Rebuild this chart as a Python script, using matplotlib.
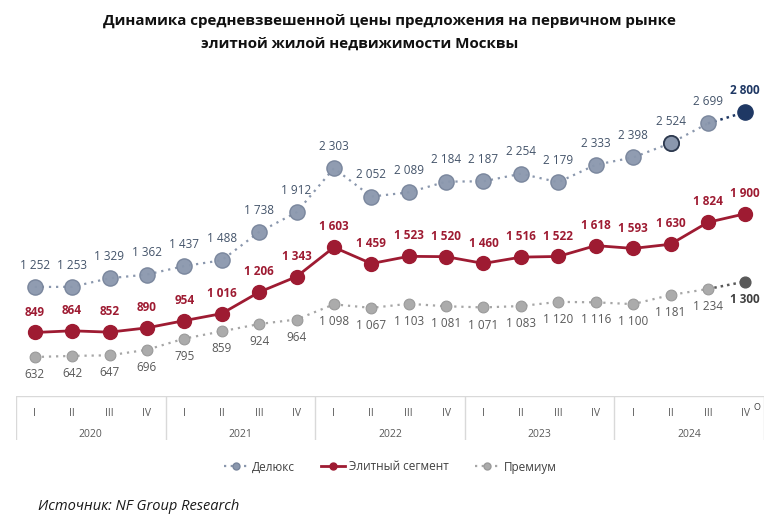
import matplotlib
matplotlib.use("Agg")
import matplotlib.pyplot as plt
from matplotlib.lines import Line2D

plt.rcParams["font.family"] = ["Open Sans", "DejaVu Sans"]

# data
years = ["2020", "2021", "2022", "2023", "2024"]
quarters = ["I", "II", "III", "IV"]
deluxe = [1252, 1253, 1329, 1362, 1437, 1488, 1738, 1912, 2303, 2052,
          2089, 2184, 2187, 2254, 2179, 2333, 2398, 2524, 2699, 2800]
elite = [849, 864, 852, 890, 954, 1016, 1206, 1343, 1603, 1459,
         1523, 1520, 1460, 1516, 1522, 1618, 1593, 1630, 1824, 1900]
premium = [632, 642, 647, 696, 795, 859, 924, 964, 1098, 1067,
           1103, 1081, 1071, 1083, 1120, 1116, 1100, 1181, 1234, 1300]
series_names = ["Делюкс", "Элитный сегмент", "Премиум"]

def fmt(v):
    return f"{v:,}".replace(",", " ")

W, H = 778, 516
fig = plt.figure(figsize=(W / 100, H / 100), dpi=100)
ax = fig.add_axes([16 / W, 1 - 396 / H, 748 / W, 326 / H])
ax.set_xlim(-0.5, 19.5)
ax.set_ylim(287, 3172)
ax.axis("off")

x = list(range(len(deluxe)))
n = len(x)

c_dlx, c_dlx_edge = "#8A97AD", "#77849B"
c_eli = "#9E1B32"
c_prm, c_prm_edge = "#ABABAB", "#9A9A9A"

# deluxe
ax.plot(x[:-1], deluxe[:-1], ls=(0, (1, 2.2)), lw=1.6, color="#8A97AD", zorder=2)
ax.plot(x[-2:], deluxe[-2:], ls=(0, (1, 1.6)), lw=1.8, color="#1F3864", zorder=2)
ax.scatter(x[:-1], deluxe[:-1], s=120, color=c_dlx, edgecolors=c_dlx_edge,
           linewidths=1, alpha=0.95, zorder=3)
ax.scatter([x[17]], [deluxe[17]], s=120, color=c_dlx, edgecolors="#2E3A4F",
           linewidths=1.3, zorder=4)
ax.scatter([x[-1]], [deluxe[-1]], s=120, color="#1F3864", zorder=4)

# elite
ax.plot(x, elite, color=c_eli, lw=2, marker="o", ms=10, zorder=3)

# premium
ax.plot(x[:-1], premium[:-1], ls=(0, (1, 2.2)), lw=1.6, color="#A6A6A6", zorder=2)
ax.plot(x[-2:], premium[-2:], ls=(0, (1, 1.6)), lw=1.8, color="#595959", zorder=2)
ax.scatter(x[:-1], premium[:-1], s=60, color=c_prm, edgecolors=c_prm_edge,
           linewidths=0.8, zorder=3)
ax.scatter([x[-1]], [premium[-1]], s=60, color="#595959", zorder=4)

for i in range(n):
    last = i == n - 1
    ax.annotate(fmt(deluxe[i]), (x[i], deluxe[i]), xytext=(0, 11),
                textcoords="offset points", ha="center", va="bottom",
                fontsize=8.5, color="#1F3864" if last else "#44546A",
                fontweight="bold" if last else "normal")
    ax.annotate(fmt(elite[i]), (x[i], elite[i]), xytext=(0, 10),
                textcoords="offset points", ha="center", va="bottom",
                fontsize=8.5, color=c_eli, fontweight="bold")
    ax.annotate(fmt(premium[i]), (x[i], premium[i]), xytext=(0, -8),
                textcoords="offset points", ha="center", va="top",
                fontsize=8.5, color="#404040" if last else "#595959",
                fontweight="bold" if last else "normal")

# category table
tax = fig.add_axes([16 / W, 1 - 440 / H, 748 / W, 44 / H], sharex=ax)
tax.set_ylim(0, 1)
tax.axis("off")
grid_c = "#D9D9D9"
tax.plot([-0.5, 19.5], [1, 1], color=grid_c, lw=1)
for k in range(len(years) + 1):
    tax.plot([k * 4 - 0.5] * 2, [0, 1], color=grid_c, lw=1)
for i in range(n):
    tax.text(x[i], 0.6, quarters[i % 4], ha="center", va="center",
             fontsize=7.5, color="#595959")
for k, yr in enumerate(years):
    tax.text(k * 4 + 1.5, 0.12, yr, ha="center", va="center",
             fontsize=7.5, color="#595959")
fig.text(757 / W, 1 - 407 / H, "O", fontsize=6.5, color="#404040",
         ha="center", va="center")

# legend
handles = [
    Line2D([], [], ls=(0, (1, 2)), lw=1.6, color="#8A97AD", marker="o", ms=5,
           mfc=c_dlx, mec=c_dlx_edge),
    Line2D([], [], lw=2, color=c_eli, marker="o", ms=5),
    Line2D([], [], ls=(0, (1, 2)), lw=1.6, color="#A6A6A6", marker="o", ms=5,
           mfc=c_prm, mec=c_prm_edge),
]
fig.legend(handles, series_names, loc="center", bbox_to_anchor=(390 / W, 1 - 467 / H),
           ncol=3, frameon=False, fontsize=8.5, handlelength=2, columnspacing=2.2,
           handletextpad=0.4, labelcolor="#404040")

fig.text(389 / W, 1 - 21 / H,
         "Динамика средневзвешенной цены предложения на первичном рынке",
         ha="center", va="center", fontsize=10.9, fontweight="bold", color="#111111")
fig.text(360 / W, 1 - 44 / H, "элитной жилой недвижимости Москвы",
         ha="center", va="center", fontsize=10.9, fontweight="bold", color="#111111")
fig.text(38 / W, 1 - 506 / H, "Источник: NF Group Research", ha="left",
         va="center", fontsize=10.5, style="italic", color="#1A1A1A")

fig.savefig("out.png", dpi=100)
